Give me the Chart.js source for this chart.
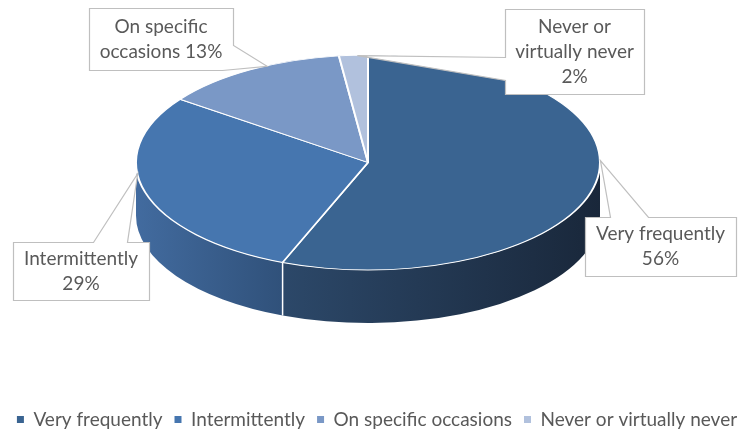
<!DOCTYPE html>
<html><head><meta charset="utf-8">
<script src="https://cdn.jsdelivr.net/npm/chart.js@4"></script>
<style>html,body{margin:0;padding:0;background:#fff}#wrap{width:754px;height:429px}</style>
</head><body><div id="wrap"><canvas id="c" width="754" height="429"></canvas></div>
<script>
// ---- data ----
const categories = ['Very frequently', 'Intermittently', 'On specific occasions', 'Never or virtually never'];
const values = [56, 29, 13, 2];
const calloutText = [['Very frequently', '56%'], ['Intermittently', '29%'], ['On specific', 'occasions 13%'], ['Never or', 'virtually never', '2%']];

// ---- styles / layout ----
const topColors = ['#3A6491', '#4676AF', '#7A98C6', '#B1C1DD'];
const sideColors = [['#2C4869', '#19273A'], ['#426B9F', '#30517A'], ['#5F7BA5', '#4E6A93'], ['#8C9DBA', '#7A8BA8']];
const GEO = { cx: 368, cy: 162.5, r: 232, ry: 107.5, depth: 53 };
const CALLOUTS = [
  { box: [585, 217, 151, 59], t1: 25, t2: 63, frac: 0.44 },
  { box: [13, 242, 136, 58], t1: 80, t2: 114, frac: 0.60 },
  { box: [89, 8, 144, 62], t1: 181, t2: 217, frac: 0.60 },
  { box: [505, 9, 139, 85], t1: 377, t2: 400, frac: 0.62 }
];
const FONT = '19px Lato';
const TEXT_COLOR = '#595959';

function perimPoint(b, s) {
  const [x, y, w, h] = b;
  if (s <= w) return [x + s, y];
  if (s <= w + h) return [x + w, y + (s - w)];
  if (s <= 2 * w + h) return [x + w - (s - w - h), y + h];
  return [x, y + h - (s - 2 * w - h)];
}

const pie3d = {
  id: 'pie3d',
  beforeDatasetsDraw(chart) {
    const ctx = chart.ctx;
    const meta = chart.getDatasetMeta(0);
    const { cx, cy, r, ry, depth } = GEO;
    meta.data.forEach((arc, i) => {
      const s = Math.max(arc.startAngle, 0), e = Math.min(arc.endAngle, Math.PI);
      if (e <= s) return;
      const x1 = cx + r * Math.cos(e), x2 = cx + r * Math.cos(s);
      const g = ctx.createLinearGradient(Math.min(x1, x2), 0, Math.max(x1, x2), 0);
      g.addColorStop(0, sideColors[i][0]);
      g.addColorStop(1, sideColors[i][1]);
      ctx.save();
      ctx.beginPath();
      ctx.ellipse(cx, cy, r, ry, 0, s, e, false);
      ctx.ellipse(cx, cy + depth, r, ry, 0, e, s, true);
      ctx.closePath();
      ctx.fillStyle = g;
      ctx.fill();
      ctx.restore();
    });
    ctx.save();
    ctx.strokeStyle = '#ffffff';
    ctx.lineWidth = 1.5;
    meta.data.forEach((arc) => {
      const a = arc.endAngle;
      if (a > 0 && a < Math.PI) {
        const x = cx + r * Math.cos(a), y = cy + ry * Math.sin(a);
        ctx.beginPath();
        ctx.moveTo(x, y);
        ctx.lineTo(x, y + depth);
        ctx.stroke();
      }
    });
    ctx.restore();
    const el = meta.data[0];
    ctx.save();
    ctx.translate(cx, cy);
    ctx.scale(1, ry / el.outerRadius);
    ctx.translate(-el.x, -el.y);
  },
  afterDatasetsDraw(chart) {
    const ctx = chart.ctx;
    ctx.restore();
    const meta = chart.getDatasetMeta(0);
    const { cx, cy, r, ry } = GEO;
    meta.data.forEach((arc, i) => {
      const c = CALLOUTS[i];
      const ang = arc.startAngle + c.frac * (arc.endAngle - arc.startAngle);
      const tip = [cx + r * Math.cos(ang), cy + ry * Math.sin(ang)];
      const b = c.box;
      const [x, y, w, h] = b;
      const pts = [];
      const corners = [[0, [x, y]], [w, [x + w, y]], [w + h, [x + w, y + h]], [2 * w + h, [x, y + h]]];
      corners.forEach(([s, p]) => { if (s < c.t1) pts.push(p); });
      pts.push(perimPoint(b, c.t1));
      pts.push(tip);
      pts.push(perimPoint(b, c.t2));
      corners.forEach(([s, p]) => { if (s > c.t2) pts.push(p); });
      ctx.save();
      ctx.beginPath();
      pts.forEach((p, k) => k ? ctx.lineTo(p[0] + 0.5, p[1] + 0.5) : ctx.moveTo(p[0] + 0.5, p[1] + 0.5));
      ctx.closePath();
      ctx.fillStyle = '#ffffff';
      ctx.fill();
      ctx.strokeStyle = '#BFBFBF';
      ctx.lineWidth = 1.2;
      ctx.stroke();
      ctx.fillStyle = TEXT_COLOR;
      ctx.font = FONT;
      ctx.textAlign = 'center';
      ctx.textBaseline = 'middle';
      const lines = calloutText[i];
      const lh = 25;
      const y0 = y + h / 2 - (lines.length - 1) * lh / 2;
      lines.forEach((t, k) => ctx.fillText(t, x + w / 2, y0 + k * lh));
      ctx.restore();
    });
  }
};

new Chart(document.getElementById('c'), {
  type: 'pie',
  data: {
    labels: categories,
    datasets: [{
      data: values,
      backgroundColor: topColors,
      borderColor: '#ffffff',
      borderWidth: 2
    }]
  },
  options: {
    responsive: false,
    animation: false,
    radius: GEO.r,
    layout: { padding: { bottom: -10 } },
    plugins: {
      tooltip: { enabled: false },
      legend: {
        position: 'bottom',
        labels: {
          boxWidth: 7,
          boxHeight: 7,
          padding: 12,
          color: TEXT_COLOR,
          font: { family: 'Lato', size: 19 },
          generateLabels(chart) {
            return Chart.overrides.pie.plugins.legend.labels.generateLabels(chart)
              .map(l => Object.assign(l, { lineWidth: 0, strokeStyle: l.fillStyle }));
          }
        }
      }
    }
  },
  plugins: [pie3d]
});
</script>
</body></html>
